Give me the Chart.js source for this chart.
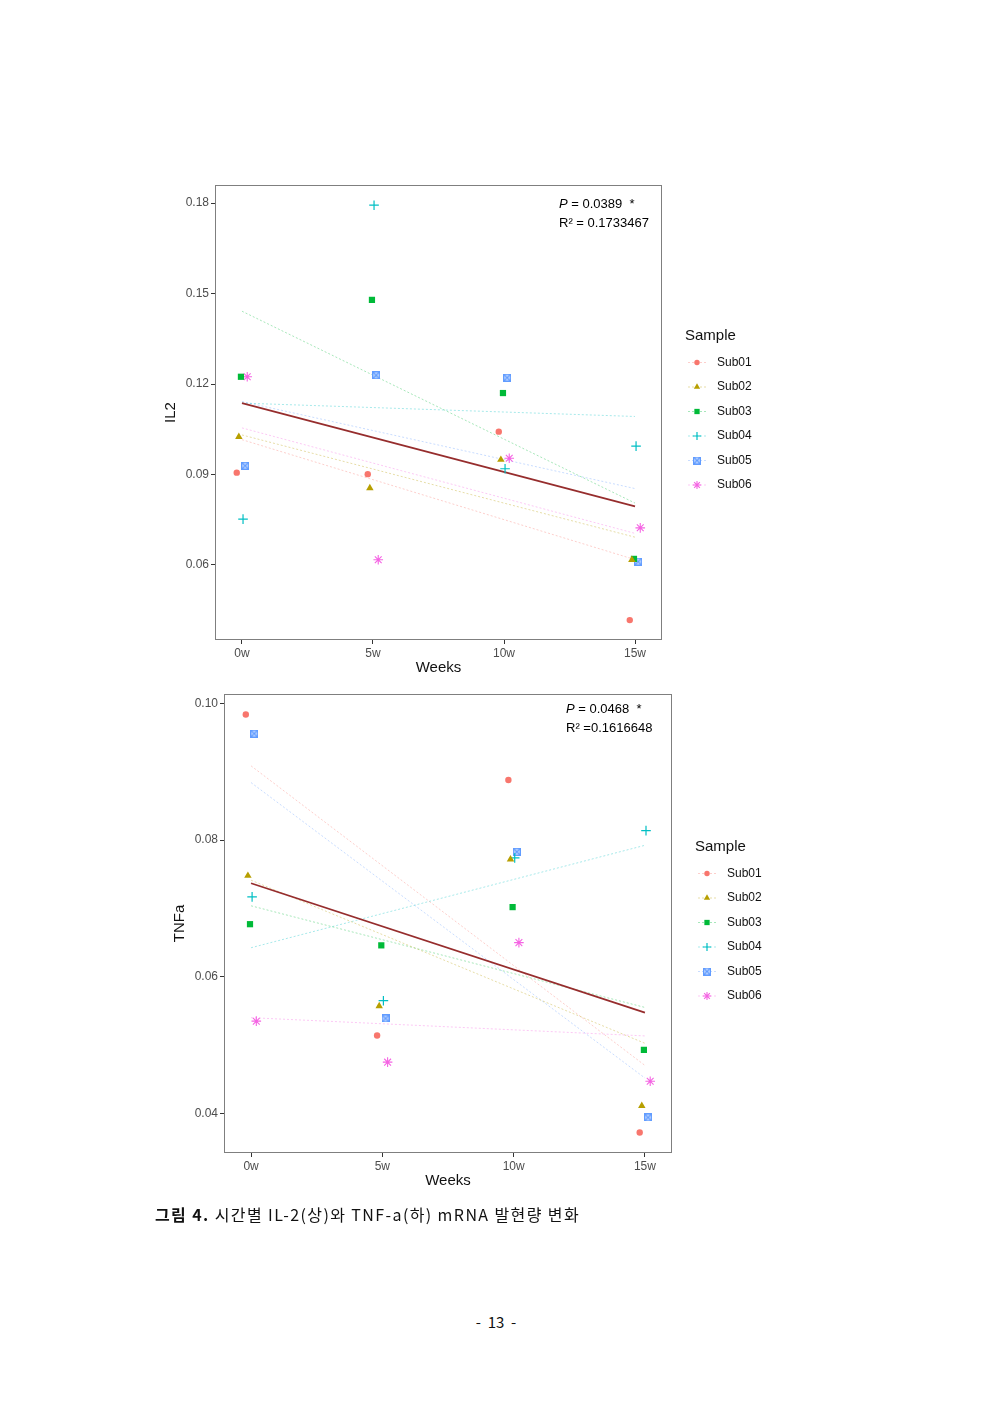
<!DOCTYPE html>
<html>
<head>
<meta charset="utf-8">
<script src="https://cdn.jsdelivr.net/npm/chart.js@4.4.1/dist/chart.umd.min.js"></script>
<style>
  body { margin: 0; background: #fff; width: 992px; height: 1403px; position: relative; font-family: "Liberation Sans", Arial, sans-serif; }
  canvas { position: absolute; }
  #il2Chart { left: 150px; top: 175px; }
  #tnfChart { left: 159px; top: 684px; }
  .caption { position: absolute; left: 155px; top: 1202px; font-family: "Noto Sans CJK KR", sans-serif; font-size: 16px; color: #111; letter-spacing: 1.4px; white-space: nowrap; }
  .caption b { font-weight: 700; }
  .page { position: absolute; left: 0; width: 992px; top: 1311px; text-align: center; font-family: "Noto Sans CJK KR", sans-serif; font-size: 15px; color: #111; white-space: pre; }
</style>
</head>
<body>
<canvas id="il2Chart" width="620" height="510" style="width:620px;height:510px"></canvas>
<canvas id="tnfChart" width="620" height="514" style="width:620px;height:514px"></canvas>
<div class="caption"><b>그림 4.</b> 시간별 IL-2(상)와 TNF-a(하) mRNA 발현량 변화</div>
<div class="page">-  13  -</div>
<script>
// data
const weeks = [0, 5, 10, 15];
const weekLabels = ['0w', '5w', '10w', '15w'];
const subjects = ['Sub01', 'Sub02', 'Sub03', 'Sub04', 'Sub05', 'Sub06'];
const dodge = [-0.2, -0.12, -0.04, 0.04, 0.12, 0.2]; // weeks, position_dodge offsets

const il2Values = [
  [0.0906, 0.0901, 0.1042, 0.0417],
  [0.1025, 0.0855, 0.0949, 0.0617],
  [0.1224, 0.1479, 0.1170, 0.0620],
  [0.0752, 0.1793, 0.0919, 0.0994],
  [0.0929, 0.1229, 0.1221, 0.0611],
  [0.1224, 0.0617, 0.0954, 0.0723]
];
const tnfValues = [
  [0.0984, 0.0514, 0.0888, 0.0372],
  [0.0748, 0.0557, 0.0772, 0.0411],
  [0.0677, 0.0646, 0.0702, 0.0493],
  [0.0717, 0.0565, 0.0774, 0.0814],
  [0.0956, 0.0539, 0.0783, 0.0394],
  [0.0535, 0.0475, 0.0650, 0.0447]
];
const il2Ticks = [0.06, 0.09, 0.12, 0.15, 0.18];
const tnfTicks = [0.04, 0.06, 0.08, 0.10];
const il2Stats = ['0.0389', '0.1733467'];
const tnfStats = ['0.0468', '0.1616648'];

// styles
const colors = ['#F8766D', '#B79F00', '#00BA38', '#00BFC4', '#619CFF', '#F564E3'];
const overallColor = '#962D2D';

function rgba(hex, a) {
  const n = parseInt(hex.slice(1), 16);
  return 'rgba(' + (n >> 16) + ',' + ((n >> 8) & 255) + ',' + (n & 255) + ',' + a + ')';
}

function boxCross(color) {
  const c = document.createElement('canvas');
  c.width = 8; c.height = 8;
  const g = c.getContext('2d');
  g.fillStyle = rgba(color, 0.3);
  g.fillRect(0, 0, 8, 8);
  g.strokeStyle = color;
  g.lineWidth = 1.3;
  g.strokeRect(0.65, 0.65, 6.7, 6.7);
  g.beginPath();
  g.moveTo(1, 1); g.lineTo(7, 7);
  g.moveTo(7, 1); g.lineTo(1, 7);
  g.stroke();
  return c;
}

const shapes = ['circle', 'triangle', 'rect', 'cross', boxCross(colors[4]), 'star'];
const radii = [3.2, 4.3, 4.4, 4.8, 4, 4.8];
const borderWidths = [0, 0, 0, 1.2, 0, 1.1];

function fit(xs, ys) {
  const n = xs.length;
  const mx = xs.reduce((a, b) => a + b, 0) / n;
  const my = ys.reduce((a, b) => a + b, 0) / n;
  let sxy = 0, sxx = 0;
  for (let i = 0; i < n; i++) {
    sxy += (xs[i] - mx) * (ys[i] - my);
    sxx += (xs[i] - mx) * (xs[i] - mx);
  }
  const b = sxy / sxx;
  return { a: my - b * mx, b: b };
}

const panelPlugin = {
  id: 'panel',
  afterDraw(chart, args, opts) {
    const { ctx, chartArea: ca } = chart;
    ctx.save();
    // panel border
    ctx.strokeStyle = '#7F7F7F';
    ctx.lineWidth = 1;
    ctx.strokeRect(ca.left + 0.5, ca.top + 0.5, ca.right - ca.left - 1, ca.bottom - ca.top - 1);

    // stats text
    const tx = ca.right - opts.statsRight;
    ctx.fillStyle = '#000';
    ctx.textBaseline = 'middle';
    ctx.textAlign = 'left';
    ctx.font = 'italic 13px "Liberation Sans", Arial';
    ctx.fillText('P', tx, ca.top + opts.statsTop);
    const pw = ctx.measureText('P').width;
    ctx.font = '13px "Liberation Sans", Arial';
    ctx.fillText(' = ' + opts.stats[0] + '  *', tx + pw, ca.top + opts.statsTop);
    ctx.fillText('R\u00B2 ' + opts.r2Sep + opts.stats[1], tx, ca.top + opts.statsTop + 19);

    // legend
    const cy = (ca.top + ca.bottom) / 2;
    const lx = ca.right + 23;
    ctx.font = '15px "Liberation Sans", Arial';
    ctx.fillStyle = '#111';
    ctx.fillText('Sample', lx, cy - 77);
    subjects.forEach((name, s) => {
      const y = cy - 50 + s * 24.5;
      const kx = lx + 12;
      ctx.strokeStyle = rgba(colors[s], 0.35);
      ctx.lineWidth = 1;
      ctx.setLineDash([2, 2]);
      ctx.beginPath();
      ctx.moveTo(kx - 9, y); ctx.lineTo(kx + 9, y);
      ctx.stroke();
      ctx.setLineDash([]);
      ctx.fillStyle = colors[s];
      ctx.strokeStyle = colors[s];
      ctx.lineWidth = borderWidths[s] || 1;
      Chart.helpers.drawPoint(ctx, {
        pointStyle: shapes[s], radius: radii[s] * 0.85, rotation: 0, borderWidth: borderWidths[s]
      }, kx, y);
      ctx.fillStyle = '#111';
      ctx.font = '12px "Liberation Sans", Arial';
      ctx.fillText(name, lx + 32, y);
    });
    ctx.restore();
  }
};

function buildChart(canvasId, values, yTicks, yMin, yMax, yTitle, stats, r2Sep, statsTop, statsRight, padRight) {
  const datasets = [];
  subjects.forEach((name, s) => {
    datasets.push({
      type: 'scatter',
      label: name,
      data: values[s].map((v, i) => ({ x: weeks[i] + dodge[s], y: v })),
      pointStyle: shapes[s],
      pointRadius: radii[s],
      backgroundColor: colors[s],
      borderColor: colors[s],
      borderWidth: borderWidths[s],
      order: 1
    });
  });
  const ends = [weeks[0], weeks[weeks.length - 1]];
  subjects.forEach((name, s) => {
    const f = fit(weeks, values[s]);
    datasets.push({
      type: 'line',
      label: name + ' fit',
      data: ends.map(x => ({ x: x, y: f.a + f.b * x })),
      borderColor: rgba(colors[s], 0.35),
      borderWidth: 1,
      borderDash: [2, 2],
      pointRadius: 0,
      order: 3
    });
  });
  const allX = [], allY = [];
  values.forEach(row => row.forEach((v, i) => { allX.push(weeks[i]); allY.push(v); }));
  const g = fit(allX, allY);
  datasets.push({
    type: 'line',
    label: 'overall',
    data: ends.map(x => ({ x: x, y: g.a + g.b * x })),
    borderColor: overallColor,
    borderWidth: 1.7,
    pointRadius: 0,
    order: 2
  });

  return new Chart(document.getElementById(canvasId), {
    type: 'scatter',
    data: { datasets: datasets },
    options: {
      responsive: false,
      animation: false,
      events: [],
      layout: { padding: { top: 10, right: padRight, left: 0, bottom: 0 } },
      plugins: {
        legend: { display: false },
        tooltip: { enabled: false },
        panel: { stats: stats, r2Sep: r2Sep, statsTop: statsTop, statsRight: statsRight }
      },
      scales: {
        x: {
          type: 'linear',
          min: -1.03, max: 16.03,
          afterBuildTicks: sc => { sc.ticks = weeks.map(v => ({ value: v })); },
          afterFit: sc => { sc.height = 45; },
          ticks: {
            callback: (v, i) => weekLabels[i],
            color: '#4D4D4D', font: { size: 12, family: '"Liberation Sans", Arial' },
            padding: 2, autoSkip: false, maxRotation: 0
          },
          grid: { drawOnChartArea: false, drawTicks: true, tickLength: 4, color: '#333' },
          border: { display: false },
          title: { display: true, text: 'Weeks', color: '#111', font: { size: 15, family: '"Liberation Sans", Arial' }, padding: { top: 0, bottom: 8 } }
        },
        y: {
          min: yMin, max: yMax,
          afterBuildTicks: sc => { sc.ticks = yTicks.map(v => ({ value: v })); },
          afterFit: sc => { sc.width = 65; },
          ticks: {
            callback: v => v.toFixed(2),
            color: '#4D4D4D', font: { size: 12, family: '"Liberation Sans", Arial' },
            padding: 2
          },
          grid: { drawOnChartArea: false, drawTicks: true, tickLength: 4, color: '#333' },
          border: { display: false },
          title: { display: true, text: yTitle, color: '#111', font: { size: 15, family: '"Liberation Sans", Arial' }, padding: { top: 12, bottom: 0 } }
        }
      }
    },
    plugins: [panelPlugin]
  });
}

buildChart('il2Chart', il2Values, il2Ticks, 0.0351, 0.186, 'IL2', il2Stats, '= ', 19, 103, 108);
buildChart('tnfChart', tnfValues, tnfTicks, 0.0342, 0.1014, 'TNFa', tnfStats, '=', 15, 106, 107);
</script>
</body>
</html>
